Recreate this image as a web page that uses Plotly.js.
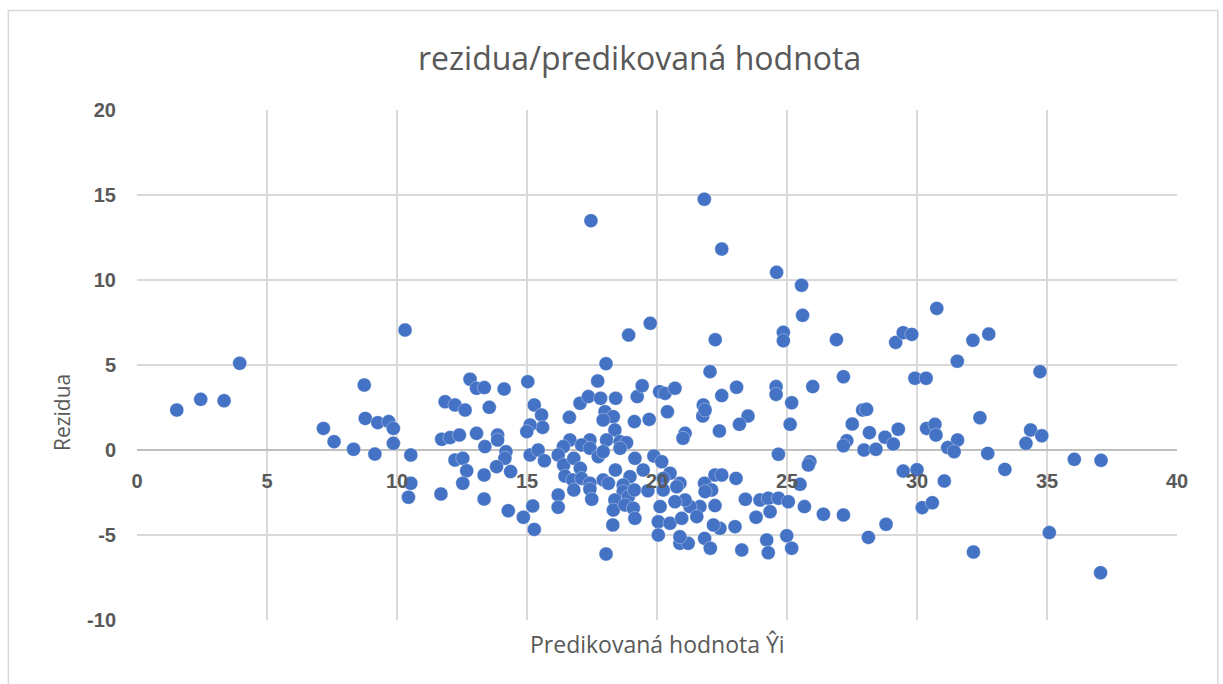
<!DOCTYPE html>
<html>
<head>
<meta charset="utf-8">
<script src="https://cdn.plot.ly/plotly-3.0.1.min.js"></script>
<style>
html,body{margin:0;padding:0;background:#fff;}
#chart{width:1223px;height:684px;}
</style>
</head>
<body>
<div id="chart"></div>
<script>
// Predicted values (x) and residuals (y)
var predicted = [
1.53,2.45,3.35,3.95,7.17,7.58,8.33,9.15,8.78,9.26,9.68,9.86,9.86,8.74,10.31,10.53,10.53,10.44,
11.85,12.23,12.62,13.55,11.72,12.04,12.4,13.06,13.38,13.87,13.87,14.19,14.15,13.83,12.23,12.53,12.68,12.53,13.35,14.37,11.69,13.35,14.28,14.86,15.22,15.28,
15.28,15.56,15.6,15.12,14.99,16.63,17.04,17.36,17.83,18.41,19.24,18.0,18.32,17.93,18.38,19.13,19.7,18.06,18.58,18.83,17.42,16.65,16.4,16.2,15.12,15.43,15.67,
17.1,17.42,17.74,17.93,18.58,19.15,19.88,16.41,16.8,17.05,16.46,16.76,17.1,17.42,17.93,18.4,18.96,19.47,18.13,16.8,17.42,17.49,16.2,16.2,
18.7,18.7,18.9,19.13,19.65,18.38,18.32,18.77,19.09,19.15,18.3,18.04,
12.81,13.06,13.36,14.12,15.03,17.46,19.74,18.91,18.04,17.72,19.43,20.1,20.31,20.69,21.82,22.49,24.6,25.56,25.6,24.86,24.86,22.24,26.9,29.18,29.47,29.8,
22.04,27.17,23.06,24.58,24.58,25.99,22.49,21.78,25.18,30.76,32.15,32.76,31.55,29.92,30.35,34.73,
25.12,20.4,21.76,21.85,23.5,23.17,22.4,21.08,21.0,27.91,28.06,27.51,28.17,28.77,29.28,29.09,27.3,27.17,27.96,28.42,29.47,
24.67,25.88,25.82,25.5,20.18,20.5,20.24,20.88,20.76,21.83,22.23,22.49,23.04,22.1,21.85,20.24,
23.4,23.96,24.28,24.67,25.05,24.35,23.81,25.67,26.4,27.17,28.81,28.13,22.23,23.0,22.42,21.65,21.27,21.08,20.69,20.12,
20.05,20.5,20.95,21.53,22.17,20.05,20.88,21.2,20.88,21.83,22.05,23.26,24.22,24.28,24.99,25.18,
32.42,30.37,30.69,30.73,31.56,31.18,31.43,32.72,33.38,34.37,34.8,34.19,36.05,37.08,30.0,31.05,30.2,30.59,35.09,32.17,37.06
];
var residuals = [
2.35,2.98,2.9,5.1,1.27,0.49,0.04,-0.24,1.86,1.61,1.67,1.27,0.39,3.82,7.06,-0.29,-1.96,-2.78,
2.84,2.65,2.35,2.51,0.63,0.73,0.88,0.98,0.2,0.88,0.59,-0.1,-0.49,-0.98,-0.59,-0.49,-1.22,-1.96,-1.47,-1.27,-2.59,-2.88,-3.57,-3.96,-3.29,-4.67,
2.65,2.06,1.33,1.47,1.08,1.92,2.75,3.14,3.04,3.04,3.14,2.25,1.96,1.76,1.18,1.67,1.8,0.59,0.49,0.43,0.59,0.59,0.2,-0.29,-0.29,0.0,-0.63,
0.29,0.1,-0.39,-0.1,0.1,-0.49,-0.35,-0.88,-0.49,-1.08,-1.53,-1.76,-1.67,-1.96,-1.76,-1.18,-1.57,-1.18,-1.96,-2.35,-2.31,-2.9,-2.65,-3.37,
-2.06,-2.45,-2.75,-2.35,-2.4,-2.94,-3.53,-3.24,-3.43,-4.02,-4.41,-6.12,
4.16,3.63,3.67,3.59,4.02,13.49,7.45,6.76,5.08,4.06,3.78,3.43,3.33,3.63,14.75,11.82,10.45,9.69,7.92,6.92,6.43,6.49,6.49,6.33,6.9,6.8,
4.61,4.31,3.69,3.73,3.27,3.73,3.2,2.65,2.78,8.33,6.45,6.82,5.22,4.22,4.22,4.61,
1.51,2.25,2.0,2.35,2.0,1.51,1.12,0.98,0.69,2.35,2.39,1.53,1.02,0.75,1.22,0.35,0.55,0.25,0.0,0.04,-1.24,
-0.25,-0.69,-0.88,-2.02,-0.69,-1.37,-1.67,-1.96,-2.16,-1.96,-1.47,-1.47,-1.67,-2.35,-2.45,-2.35,
-2.9,-2.94,-2.84,-2.84,-3.04,-3.63,-3.96,-3.33,-3.78,-3.82,-4.37,-5.14,-3.27,-4.51,-4.61,-3.33,-3.33,-2.94,-3.04,-3.33,
-4.22,-4.31,-4.02,-3.92,-4.41,-5.0,-5.49,-5.49,-5.1,-5.2,-5.78,-5.88,-5.29,-6.04,-5.04,-5.78,
1.9,1.27,1.51,0.88,0.59,0.14,-0.1,-0.2,-1.14,1.18,0.84,0.39,-0.55,-0.61,-1.16,-1.82,-3.39,-3.1,-4.86,-6.0,-7.22
];
var xTicks = [0,5,10,15,20,25,30,35,40];
var yTicks = [-10,-5,0,5,10,15,20];
var chartTitle = 'rezidua/predikovaná hodnota';
var xTitle = 'Predikovaná hodnota Ŷi';
var yTitle = 'Rezidua';

var gray = '#595959';
var trace = {
  x: predicted,
  y: residuals,
  type: 'scatter',
  mode: 'markers',
  marker: {size: 14, color: '#4472C4', line: {width: 0.6, color: 'rgba(255,255,255,0.55)'}},
  hoverinfo: 'x+y'
};

var layout = {
  width: 1223,
  height: 684,
  margin: {l: 137, r: 46, t: 110, b: 64},
  paper_bgcolor: '#ffffff',
  plot_bgcolor: '#ffffff',
  showlegend: false,
  title: {
    text: chartTitle,
    font: {family: 'Open Sans, sans-serif', size: 32, color: gray},
    xref: 'container', x: 0.523, xanchor: 'center',
    yref: 'container', y: 0.914, yanchor: 'middle'
  },
  xaxis: {
    range: [0, 40],
    tickvals: xTicks,
    ticktext: xTicks.map(String),
    showgrid: true,
    gridcolor: '#d9d9d9',
    gridwidth: 1.5,
    zeroline: false,
    showline: false,
    ticks: '',
    anchor: 'free',
    position: 1/3,
    ticklabelstandoff: 17,
    tickfont: {family: 'Liberation Sans, Arial, sans-serif', size: 20, color: gray, weight: 'bold'},
    fixedrange: true
  },
  yaxis: {
    range: [-10, 20],
    tickvals: yTicks,
    ticktext: yTicks.map(String),
    showgrid: true,
    gridcolor: '#d9d9d9',
    gridwidth: 1.5,
    zeroline: true,
    zerolinecolor: '#bfbfbf',
    zerolinewidth: 1.5,
    showline: false,
    ticks: '',
    ticklabelstandoff: 20,
    tickfont: {family: 'Liberation Sans, Arial, sans-serif', size: 20, color: gray, weight: 'bold'},
    fixedrange: true
  },
  annotations: [
    {text: xTitle, xref: 'paper', yref: 'paper', x: 0.5, y: -0.047, xanchor: 'center', yanchor: 'middle',
     showarrow: false, font: {family: 'Open Sans, sans-serif', size: 23, color: gray}},
    {text: yTitle, xref: 'paper', yref: 'paper', x: -0.072, y: 0.406, xanchor: 'center', yanchor: 'middle',
     textangle: -90, showarrow: false, font: {family: 'Open Sans, sans-serif', size: 21, color: gray}}
  ],
  shapes: [
    {type: 'rect', xref: 'paper', yref: 'paper', x0: -0.1237, x1: 1.0393, y0: -0.14, y1: 1.195,
     line: {color: '#d9d9d9', width: 1.5}, fillcolor: 'rgba(0,0,0,0)', layer: 'below'}
  ]
};

Plotly.newPlot('chart', [trace], layout, {displayModeBar: false, staticPlot: true});
</script>
</body>
</html>
